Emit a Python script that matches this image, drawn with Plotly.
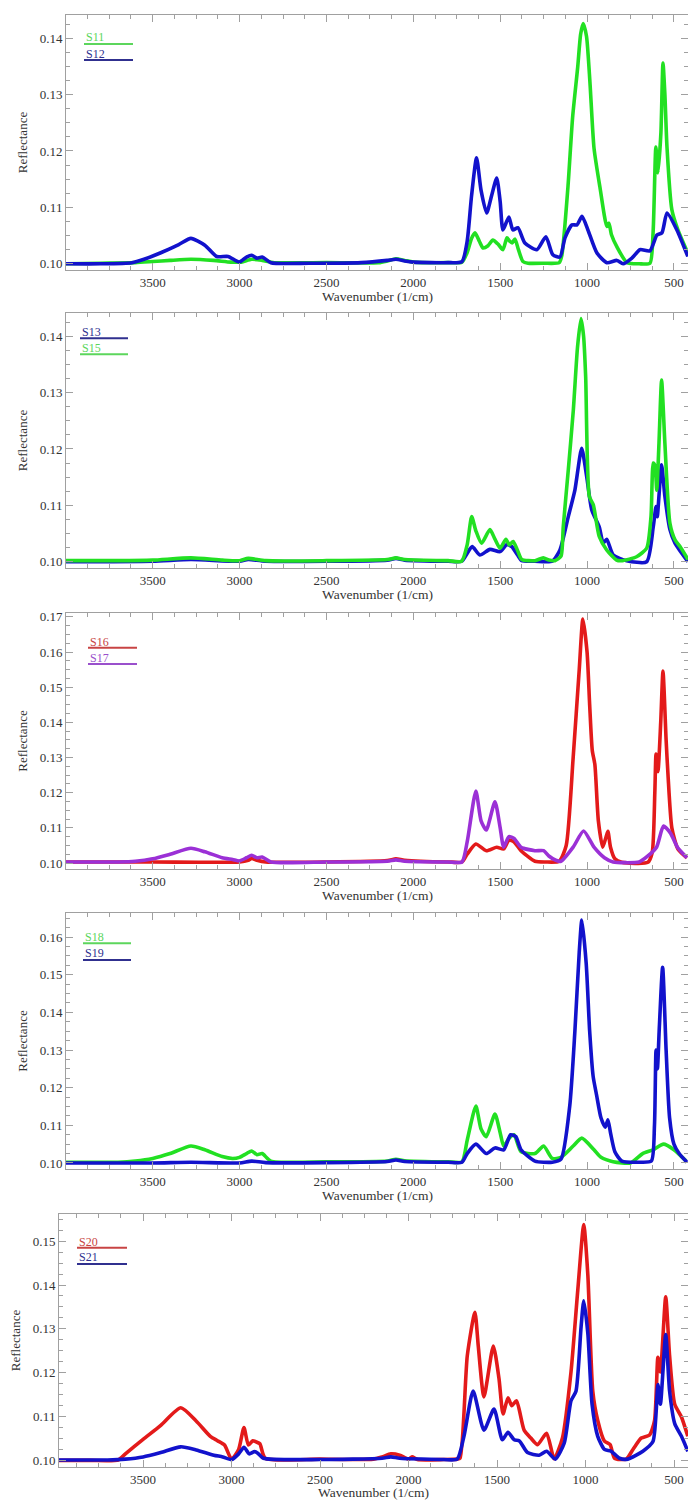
import plotly.graph_objects as go

# ---- spectra: wavenumber (1/cm) / reflectance ----
s11_wn = [4000, 3800, 3600, 3500, 3400, 3280, 3150, 3050, 2990, 2930, 2870, 2800, 2500, 2200,
          2150, 2100, 2050, 2000, 1800, 1720, 1690, 1665, 1645, 1620, 1599, 1570, 1542, 1510,
          1484, 1461, 1445, 1432, 1415, 1395, 1369, 1340, 1250, 1160, 1145, 1110, 1083, 1054,
          1037, 1022, 1003, 983, 960, 926, 886, 874, 860, 828, 770, 700, 638, 620, 604, 592,
          575, 563, 552, 540, 512, 477, 420]
s11_r = [0.1000, 0.1001, 0.1002, 0.1004, 0.1006, 0.1008, 0.1006, 0.1003, 0.1003, 0.1008, 0.1006,
         0.1002, 0.1002, 0.1002, 0.1005, 0.1009, 0.1006, 0.1003, 0.1002, 0.1003, 0.1020, 0.1045,
         0.1055, 0.1040, 0.1028, 0.1032, 0.1042, 0.1034, 0.1025, 0.1046, 0.1040, 0.1037, 0.1044,
         0.1025, 0.1004, 0.1001, 0.1001, 0.1002, 0.1015, 0.1136, 0.1260, 0.1348, 0.1407, 0.1426,
         0.1403, 0.1320, 0.1205, 0.1136, 0.1066, 0.1072, 0.1052, 0.1030, 0.1002, 0.1000, 0.1001,
         0.1055, 0.1207, 0.1161, 0.1232, 0.1356, 0.1300, 0.1207, 0.1096, 0.1060, 0.1019]

s12_wn = [4000, 3800, 3620, 3550, 3450, 3350, 3280, 3200, 3132, 3066, 3002, 2960, 2930, 2900,
          2870, 2820, 2600, 2300, 2150, 2100, 2050, 2000, 1800, 1720, 1690, 1665, 1636, 1610,
          1578, 1550, 1520, 1500, 1484, 1450, 1427, 1398, 1358, 1289, 1237, 1197, 1156, 1127,
          1087, 1058, 1029, 995, 943, 886, 828, 793, 742, 696, 638, 598, 569, 540, 483, 420]
s12_r = [0.1000, 0.1000, 0.1002, 0.1008, 0.1020, 0.1034, 0.1045, 0.1033, 0.1013, 0.1013, 0.1003,
         0.1012, 0.1015, 0.1010, 0.1012, 0.1002, 0.1001, 0.1002, 0.1006, 0.1008, 0.1005, 0.1003,
         0.1002, 0.1004, 0.1040, 0.1120, 0.1188, 0.1130, 0.1090, 0.1120, 0.1152, 0.1110, 0.1060,
         0.1083, 0.1060, 0.1064, 0.1037, 0.1025, 0.1048, 0.1016, 0.1012, 0.1046, 0.1069, 0.1069,
         0.1084, 0.1060, 0.1019, 0.1002, 0.1006, 0.1000, 0.1010, 0.1025, 0.1023, 0.1051, 0.1055,
         0.1090, 0.1060, 0.1013]

s13_wn = [4000, 3500, 3280, 3000, 2950, 2850, 2150, 2100, 2050, 1800, 1722, 1690, 1661, 1617,
          1559, 1501, 1463, 1434, 1400, 1376, 1300, 1200, 1156, 1108, 1070, 1031, 1002, 973,
          930, 907, 887, 849, 772, 657, 619, 603, 596, 571, 552, 523, 494, 419]
s13_r = [0.1000, 0.1001, 0.1004, 0.1001, 0.1004, 0.1001, 0.1003, 0.1006, 0.1003, 0.1001, 0.1001,
         0.1015, 0.1027, 0.1012, 0.1022, 0.1018, 0.1030, 0.1027, 0.1012, 0.1002, 0.1001, 0.1001,
         0.1021, 0.1080, 0.1127, 0.1201, 0.1151, 0.1092, 0.1062, 0.1033, 0.1040, 0.1012, 0.1002,
         0.1000, 0.1062, 0.1098, 0.1080, 0.1172, 0.1116, 0.1057, 0.1033, 0.1000]

s15_wn = [4000, 3700, 3500, 3280, 3100, 3000, 2950, 2850, 2500, 2150, 2100, 2050, 1800, 1722,
          1690, 1664, 1640, 1607, 1559, 1530, 1501, 1467, 1448, 1425, 1400, 1376, 1300, 1252,
          1220, 1185, 1150, 1137, 1108, 1079, 1055, 1035, 1020, 1008, 987, 964, 930, 887, 830,
          797, 715, 657, 632, 619, 609, 599, 586, 571, 552, 523, 494, 465, 419]
s15_r = [0.1002, 0.1002, 0.1003, 0.1007, 0.1003, 0.1002, 0.1006, 0.1002, 0.1002, 0.1004, 0.1007,
         0.1004, 0.1002, 0.1001, 0.1030, 0.1080, 0.1055, 0.1033, 0.1057, 0.1040, 0.1024, 0.1040,
         0.1030, 0.1036, 0.1020, 0.1004, 0.1002, 0.1007, 0.1003, 0.1002, 0.1010, 0.1062, 0.1163,
         0.1269, 0.1380, 0.1431, 0.1400, 0.1328, 0.1116, 0.1101, 0.1045, 0.1021, 0.1003, 0.1002,
         0.1009, 0.1024, 0.1080, 0.1175, 0.1170, 0.1127, 0.1210, 0.1322, 0.1210, 0.1068, 0.1039,
         0.1027, 0.1004]

s16_wn = [4000, 3500, 3000, 2950, 2930, 2900, 2850, 2500, 2150, 2100, 2050, 1800, 1720, 1690,
          1640, 1580, 1520, 1480, 1450, 1420, 1380, 1300, 1240, 1160, 1120, 1080, 1045, 1024,
          1000, 985, 970, 955, 935, 910, 890, 880, 865, 840, 800, 650, 625, 610, 603, 592, 576,
          563, 545, 534, 512, 477, 425]
s16_r = [0.1003, 0.1003, 0.1003, 0.1008, 0.1013, 0.1008, 0.1003, 0.1003, 0.1007, 0.1012, 0.1008,
         0.1003, 0.1003, 0.1025, 0.1054, 0.1035, 0.1045, 0.1040, 0.1065, 0.1060, 0.1035, 0.1005,
         0.1003, 0.1005, 0.1050, 0.1300, 0.1550, 0.1694, 0.1600, 0.1450, 0.1320, 0.1280, 0.1120,
         0.1045, 0.1075, 0.1090, 0.1045, 0.1012, 0.1002, 0.1002, 0.1030, 0.1200, 0.1310, 0.1260,
         0.1400, 0.1546, 0.1350, 0.1250, 0.1100, 0.1040, 0.1015]

s17_wn = [4000, 3700, 3600, 3500, 3400, 3280, 3200, 3100, 3040, 3000, 2960, 2930, 2900, 2870,
          2820, 2500, 2150, 2100, 2050, 1800, 1720, 1690, 1640, 1610, 1580, 1530, 1500, 1480,
          1450, 1420, 1380, 1300, 1250, 1220, 1180, 1150, 1080, 1020, 960, 900, 850, 780, 700,
          650, 600, 560, 520, 480, 425]
s17_r = [0.1003, 0.1003, 0.1005, 0.1012, 0.1025, 0.1042, 0.1032, 0.1015, 0.1010, 0.1006, 0.1015,
         0.1022, 0.1015, 0.1017, 0.1003, 0.1003, 0.1005, 0.1009, 0.1005, 0.1003, 0.1003, 0.1060,
         0.1205, 0.1120, 0.1094, 0.1174, 0.1100, 0.1045, 0.1075, 0.1070, 0.1045, 0.1035, 0.1035,
         0.1020, 0.1008, 0.1005, 0.1045, 0.1091, 0.1045, 0.1015, 0.1003, 0.1001, 0.1003, 0.1020,
         0.1045, 0.1105, 0.1085, 0.1045, 0.1015]

s18_wn = [4000, 3700, 3600, 3500, 3400, 3280, 3200, 3100, 3040, 3000, 2960, 2930, 2900, 2870,
          2820, 2500, 2150, 2100, 2050, 1800, 1720, 1690, 1640, 1610, 1580, 1530, 1500, 1480,
          1450, 1420, 1380, 1300, 1250, 1200, 1150, 1080, 1030, 960, 920, 850, 750, 680, 620,
          560, 500, 430]
s18_r = [0.1002, 0.1002, 0.1005, 0.1012, 0.1025, 0.1045, 0.1035, 0.1017, 0.1012, 0.1015, 0.1025,
         0.1032, 0.1022, 0.1025, 0.1005, 0.1003, 0.1005, 0.1010, 0.1006, 0.1003, 0.1003, 0.1060,
         0.1151, 0.1090, 0.1070, 0.1130, 0.1080, 0.1045, 0.1065, 0.1075, 0.1030, 0.1025, 0.1045,
         0.1012, 0.1015, 0.1045, 0.1066, 0.1035, 0.1015, 0.1003, 0.1000, 0.1025, 0.1035, 0.1050,
         0.1035, 0.1005]

s19_wn = [4000, 3500, 3280, 3000, 2930, 2850, 2500, 2150, 2100, 2050, 1800, 1720, 1690, 1640,
          1580, 1530, 1480, 1440, 1410, 1380, 1300, 1200, 1150, 1100, 1070, 1045, 1030, 1005,
          985, 965, 945, 920, 895, 880, 865, 840, 800, 700, 630, 612, 603, 595, 585, 565, 545,
          525, 500, 470, 425]
s19_r = [0.1000, 0.1000, 0.1002, 0.1000, 0.1005, 0.1001, 0.1001, 0.1004, 0.1008, 0.1004, 0.1002,
         0.1002, 0.1025, 0.1050, 0.1025, 0.1040, 0.1035, 0.1075, 0.1070, 0.1035, 0.1005, 0.1002,
         0.1010, 0.1150, 0.1350, 0.1560, 0.1645, 0.1530, 0.1350, 0.1230, 0.1180, 0.1120, 0.1095,
         0.1115, 0.1080, 0.1030, 0.1005, 0.1002, 0.1005, 0.1100, 0.1300, 0.1250, 0.1350, 0.1520,
         0.1300, 0.1120, 0.1050, 0.1025, 0.1002]

s20_wn = [4000, 3800, 3640, 3600, 3500, 3400, 3287, 3200, 3120, 3080, 3040, 3000, 2960, 2930,
          2905, 2880, 2860, 2840, 2810, 2500, 2200, 2150, 2100, 2050, 2000, 1980, 1950, 1800,
          1725, 1709, 1668, 1625, 1606, 1574, 1521, 1489, 1466, 1438, 1417, 1390, 1347, 1309,
          1271, 1220, 1177, 1130, 1082, 1044, 1010, 987, 959, 931, 893, 861, 836, 770, 732, 685,
          638, 610, 591, 577, 547, 525, 496, 458, 422]
s20_r = [0.1000, 0.1000, 0.1001, 0.1015, 0.1048, 0.1080, 0.1120, 0.1090, 0.1055, 0.1045, 0.1035,
         0.1003, 0.1025, 0.1075, 0.1035, 0.1045, 0.1042, 0.1038, 0.1005, 0.1003, 0.1003, 0.1008,
         0.1015, 0.1012, 0.1003, 0.1008, 0.1002, 0.1002, 0.1003, 0.1005, 0.1239, 0.1338, 0.1261,
         0.1145, 0.1261, 0.1187, 0.1106, 0.1143, 0.1125, 0.1136, 0.1069, 0.1051, 0.1036, 0.1062,
         0.1004, 0.1052, 0.1202, 0.1387, 0.1538, 0.1423, 0.1158, 0.1091, 0.1044, 0.1036, 0.1005,
         0.1003, 0.1025, 0.1051, 0.1058, 0.1091, 0.1235, 0.1202, 0.1373, 0.1239, 0.1128, 0.1099,
         0.1055]

s21_wn = [4000, 3700, 3600, 3500, 3400, 3287, 3200, 3100, 3050, 3000, 2960, 2930, 2900, 2870,
          2850, 2820, 2500, 2150, 2100, 2050, 1800, 1725, 1687, 1635, 1574, 1517, 1470, 1438,
          1403, 1375, 1328, 1262, 1220, 1171, 1120, 1082, 1054, 1025, 1010, 987, 963, 931, 893,
          856, 808, 761, 676, 619, 591, 577, 547, 525, 496, 458, 422]
s21_r = [0.1001, 0.1001, 0.1003, 0.1008, 0.1018, 0.1031, 0.1024, 0.1012, 0.1008, 0.1002, 0.1015,
         0.1030, 0.1015, 0.1020, 0.1016, 0.1005, 0.1002, 0.1005, 0.1008, 0.1005, 0.1002, 0.1003,
         0.1055, 0.1158, 0.1069, 0.1117, 0.1047, 0.1064, 0.1047, 0.1045, 0.1018, 0.1012, 0.1021,
         0.1003, 0.1040, 0.1136, 0.1158, 0.1305, 0.1364, 0.1290, 0.1128, 0.1055, 0.1025, 0.1021,
         0.1005, 0.1003, 0.1021, 0.1043, 0.1173, 0.1128, 0.1287, 0.1158, 0.1084, 0.1055, 0.1021]

x_tick_step = 500
y_tick_step = 0.01

GREEN, BLUE, RED, PURPLE = '#22e022', '#1212cc', '#e31a1a', '#9b30d6'
# the little key lines/labels are drawn in slightly different shades
KEY = {GREEN: '#5cd65c', BLUE: '#30308f', RED: '#c84444', PURPLE: '#9a50cc'}

W, H = 688, 1502
FONT = 'Liberation Serif, Times New Roman, serif'
TXT = '#333333'

# each panel: series in draw order, y range, x range, pixel box (left, top, bottom), key pos
panels = [
    dict(series=[('S11', s11_wn, s11_r, GREEN), ('S12', s12_wn, s12_r, BLUE)],
         key_order=['S11', 'S12'], yr=[0.0989, 0.1441], xr=[3999, 419],
         box=(66, 15, 270), key=(84, 133, 37.5, 44, 53.5, 60), xt=296),
    dict(series=[('S13', s13_wn, s13_r, BLUE), ('S15', s15_wn, s15_r, GREEN)],
         key_order=['S13', 'S15'], yr=[0.0989, 0.1441], xr=[3999, 419],
         box=(66, 313, 568), key=(80, 128, 331.7, 338.3, 348, 354.3), xt=594),
    dict(series=[('S16', s16_wn, s16_r, RED), ('S17', s17_wn, s17_r, PURPLE)],
         key_order=['S16', 'S17'], yr=[0.0983, 0.1711], xr=[3999, 419],
         box=(66, 613, 869), key=(88, 137, 641.7, 647.7, 657.7, 664), xt=895),
    dict(series=[('S18', s18_wn, s18_r, GREEN), ('S19', s19_wn, s19_r, BLUE)],
         key_order=['S18', 'S19'], yr=[0.0984, 0.1664], xr=[3999, 419],
         box=(66, 913, 1169), key=(83, 131, 937.3, 943.3, 953.3, 960), xt=1195),
    dict(series=[('S20', s20_wn, s20_r, RED), ('S21', s21_wn, s21_r, BLUE)],
         key_order=['S20', 'S21'], yr=[0.0985, 0.1562], xr=[3975, 421],
         box=(59, 1214, 1467), key=(77, 127, 1241.7, 1247.7, 1257.3, 1264), xt=1492),
]


def py(p):
    return 1 - p / H


axis_common = dict(
    showline=True, linecolor='#a0a0a0', linewidth=1, mirror='ticks',
    ticks='inside', ticklen=7, tickcolor='#a0a0a0', tickwidth=1,
    showgrid=False, zeroline=False, automargin=False,
    tickfont=dict(family=FONT, size=13, color=TXT),
)

fig = go.Figure()
shapes = []
annotations = []

for i, p in enumerate(panels, start=1):
    sfx = '' if i == 1 else str(i)
    for name, wn, r, col in p['series']:
        fig.add_trace(go.Scatter(
            x=wn, y=r, name=name, mode='lines',
            line=dict(color=col, width=3.6, shape='spline', smoothing=0.6),
            xaxis='x' + sfx, yaxis='y' + sfx, showlegend=False,
        ))

    left, top, bottom = p['box']
    fig.layout['xaxis' + sfx] = dict(
        axis_common, domain=[left / W, 1.0], range=p['xr'], anchor='y' + sfx,
        dtick=x_tick_step, tick0=0,
        minor=dict(ticks='inside', ticklen=4, tickcolor='#a0a0a0', dtick=x_tick_step / 4),
    )
    fig.layout['yaxis' + sfx] = dict(
        axis_common, domain=[py(bottom), py(top)], range=p['yr'], anchor='x' + sfx,
        dtick=y_tick_step, tick0=0, tickformat='.2f',
        minor=dict(ticks='inside', ticklen=4, tickcolor='#a0a0a0', dtick=y_tick_step / 4),
        title=dict(text='Reflectance', standoff=9,
                   font=dict(family=FONT, size=13, color=TXT)),
    )

    # x-axis title sits tight under the tick labels
    annotations.append(dict(
        text='Wavenumber (1/cm)', x=(left + W) / 2 / W, y=py(p['xt']),
        xref='paper', yref='paper', xanchor='center', yanchor='middle',
        showarrow=False, font=dict(family=FONT, size=13.5, color=TXT),
    ))

    # small key: label above a short line
    x0, x1, t1, l1, t2, l2 = p['key']
    colors = {name: col for name, _, _, col in p['series']}
    for name, ty, ly in zip(p['key_order'], (t1, t2), (l1, l2)):
        c = KEY[colors[name]]
        annotations.append(dict(
            text=name, x=x0 / W, y=py(ty), xref='paper', yref='paper',
            xanchor='left', yanchor='middle', showarrow=False,
            font=dict(family=FONT, size=12, color=c),
        ))
        shapes.append(dict(
            type='line', xref='paper', yref='paper',
            x0=x0 / W, x1=x1 / W, y0=py(ly), y1=py(ly),
            line=dict(color=c, width=2),
        ))

fig.update_layout(
    template='none',
    width=W, height=H,
    margin=dict(l=0, r=0, t=0, b=0),
    paper_bgcolor='white', plot_bgcolor='white',
    shapes=shapes, annotations=annotations,
    showlegend=False,
)

fig.write_html("out.html", config={'displayModeBar': False},
               post_script="document.body.style.margin='0';")
